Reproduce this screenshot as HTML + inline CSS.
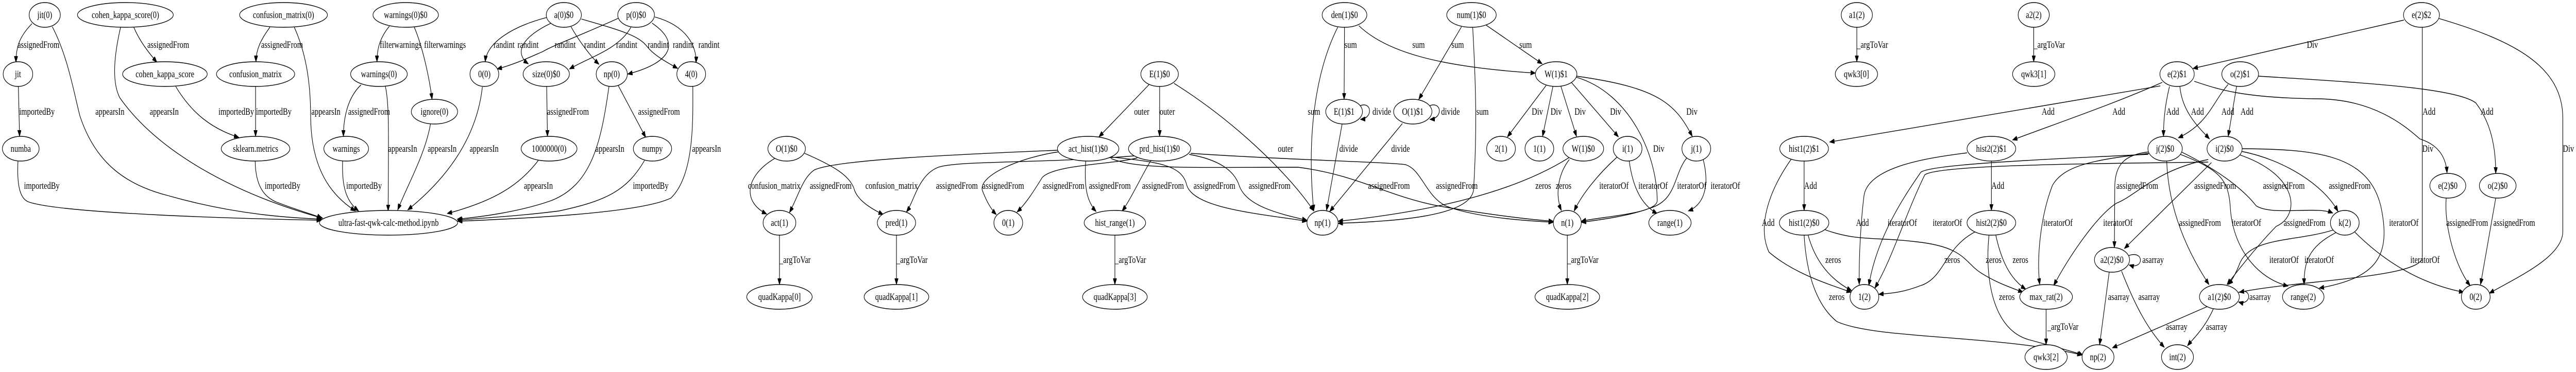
<!DOCTYPE html>
<html><head><meta charset="utf-8"><style>
html,body{margin:0;padding:0;background:#fff;width:100%;height:100%;overflow:hidden}
svg{display:block;width:100%;height:100%}
text{font-family:"Liberation Serif",serif;font-size:18.67px;fill:#000}
.n{text-anchor:middle}
ellipse{fill:#fff;stroke:#000;stroke-width:1.4}
path{fill:none;stroke:#000;stroke-width:1.4}
</style></head><body>
<svg viewBox="0 0 6451 723" preserveAspectRatio="none" xmlns="http://www.w3.org/2000/svg">
<defs><marker id="a" markerUnits="userSpaceOnUse" markerWidth="13" markerHeight="9" refX="12" refY="4.5" orient="auto"><path d="M0,0 L12,4.5 L0,9 z" style="fill:#000;stroke:#000;stroke-width:1"/></marker></defs>
<g marker-end="url(#a)">
<path d="M80,46 C50,70 40,90 40,121"/>
<path d="M46,168 L49,265"/>
<path d="M45,313 C42,360 50,385 70,392 C150,415 600,425 805,428"/>
<path d="M131,52 C170,110 185,180 200,225 C240,320 320,360 420,380 C600,420 750,424 805,426"/>
<path d="M335,53 C350,80 370,100 393,121"/>
<path d="M302,53 C285,110 280,160 300,190 C400,300 600,380 808,424"/>
<path d="M440,168 C480,220 530,250 598,267"/>
<path d="M676,53 C655,75 641,95 641,120"/>
<path d="M640,168 L640,265"/>
<path d="M737,53 C770,110 778,170 778,230 C780,330 830,380 890,410"/>
<path d="M639,313 C640,360 660,385 700,395 C750,410 790,418 806,424"/>
<path d="M975,51 C955,70 944,90 944,120"/>
<path d="M1037,52 C1058,90 1075,150 1082,193"/>
<path d="M904,165 C870,190 860,230 860,265"/>
<path d="M965,168 C975,200 973,260 972,410"/>
<path d="M1078,241 C1065,300 1020,360 996,408"/>
<path d="M858,313 C856,360 865,390 898,410"/>
<path d="M1208,169 C1195,260 1130,340 1021,408"/>
<path d="M1369,168 L1371,265"/>
<path d="M1548,166 L1617,267"/>
<path d="M1525,168 C1505,280 1480,360 1380,390 C1300,412 1200,422 1145,426"/>
<path d="M1735,168 C1735,230 1740,340 1680,385 C1600,415 1300,425 1146,430"/>
<path d="M1348,312 C1300,360 1240,390 1120,415"/>
<path d="M1614,312 C1570,370 1520,390 1400,410 C1300,420 1200,424 1146,428"/>
<path d="M1369,34 C1290,50 1220,80 1215,120"/>
<path d="M1380,45 C1300,75 1290,105 1323,124"/>
<path d="M1550,35 C1450,70 1380,90 1360,100 C1330,110 1290,125 1245,134"/>
<path d="M1430,52 C1450,80 1480,110 1500,125"/>
<path d="M1580,53 C1550,95 1480,110 1426,134"/>
<path d="M1456,37 C1560,60 1600,70 1620,90 C1640,110 1680,125 1697,133"/>
<path d="M1633,45 C1700,80 1690,120 1572,144"/>
<path d="M1640,33 C1720,50 1745,90 1743,122"/>
<path d="M1940,308 C1870,340 1855,390 1920,416"/>
<path d="M2649,292 C2400,300 2100,310 2040,330 C2010,345 2000,380 1977,413"/>
<path d="M2015,298 C2080,320 2130,340 2140,370 C2150,390 2180,405 2212,417"/>
<path d="M2840,303 C2600,318 2400,312 2350,325 C2300,340 2290,390 2270,412"/>
<path d="M2652,295 C2560,305 2450,340 2460,370 C2470,390 2480,405 2495,417"/>
<path d="M2848,307 C2780,320 2640,320 2610,345 C2590,370 2570,395 2547,412"/>
<path d="M2719,313 C2715,360 2720,390 2745,411"/>
<path d="M2882,312 C2860,340 2830,390 2810,410"/>
<path d="M2878,164 L2752,266"/>
<path d="M2904,168 L2904,265"/>
<path d="M2940,162 C3080,230 3220,330 3290,410"/>
<path d="M2780,305 C2900,315 2960,320 2972,360 C2990,405 3150,415 3273,430"/>
<path d="M2978,300 C3050,310 3090,330 3103,360 C3120,400 3200,415 3273,428"/>
<path d="M2782,308 C2850,330 3000,325 3250,325 C3400,340 3470,380 3600,400 C3750,420 3850,428 3890,430"/>
<path d="M2982,298 C3200,310 3480,315 3520,320 C3560,330 3570,380 3620,400 C3700,425 3850,430 3890,432"/>
<path d="M3367,53 L3366,193"/>
<path d="M3403,50 C3470,100 3600,130 3845,142"/>
<path d="M3350,53 C3300,130 3270,250 3290,410"/>
<path d="M3660,52 L3553,193"/>
<path d="M3722,49 L3862,124"/>
<path d="M3688,53 C3695,150 3700,250 3690,370 C3680,420 3500,430 3351,434"/>
<path d="M3361,241 L3322,409"/>
<path d="M3512,240 L3330,411"/>
<path d="M3405,206 C3435,195 3440,230 3407,232"/>
<path d="M3579,206 C3610,195 3615,230 3581,232"/>
<path d="M3872,166 L3775,266"/>
<path d="M3889,168 L3863,265"/>
<path d="M3909,168 L3948,265"/>
<path d="M3935,160 L4053,266"/>
<path d="M3947,150 C4080,180 4150,300 4150,390 C4150,415 4020,420 3960,430"/>
<path d="M3948,148 C4150,170 4195,200 4238,265"/>
<path d="M3930,306 C3800,370 3600,410 3351,430"/>
<path d="M3930,310 C3900,340 3895,380 3910,409"/>
<path d="M4050,305 C4000,340 3960,380 3942,410"/>
<path d="M4080,313 C4090,370 4115,400 4150,415"/>
<path d="M4224,307 C4190,340 4200,390 4130,405 C4080,420 4000,428 3960,432"/>
<path d="M4265,309 C4285,370 4260,400 4228,410"/>
<path d="M3925,457 L3925,553"/>
<path d="M1952,457 L1952,553"/>
<path d="M2245,457 L2245,553"/>
<path d="M2792,457 L2792,553"/>
<path d="M4650,53 L4650,120"/>
<path d="M5093,53 L5093,120"/>
<path d="M6020,39 L5492,133"/>
<path d="M6066,53 L6066,500 C6066,540 5750,545 5608,568"/>
<path d="M6108,36 C6300,80 6418,130 6418,230 L6418,450 C6418,500 6300,540 6234,570"/>
<path d="M5410,167 L4582,276"/>
<path d="M5415,160 C5300,200 5150,240 5040,272"/>
<path d="M5433,168 C5420,210 5418,240 5418,265"/>
<path d="M5459,168 C5465,220 5510,250 5533,270"/>
<path d="M5580,164 C5540,200 5530,240 5455,268"/>
<path d="M5601,168 L5580,265"/>
<path d="M5495,158 C5560,175 5620,190 5800,192 C5950,192 6030,250 6060,270 C6100,280 6125,300 6128,336"/>
<path d="M5656,148 C5900,160 6150,170 6200,200 C6240,240 6250,290 6250,337"/>
<path d="M6126,385 C6120,440 6150,520 6186,555"/>
<path d="M6250,385 L6212,553"/>
<path d="M4518,313 L4518,409"/>
<path d="M4487,308 C4430,370 4400,440 4430,490 C4490,530 4570,550 4636,568"/>
<path d="M4987,313 L4987,409"/>
<path d="M4926,297 C4850,305 4680,320 4668,380 C4660,430 4655,500 4656,553"/>
<path d="M5380,300 C5100,310 4830,320 4810,335 C4770,380 4700,460 4680,555"/>
<path d="M5530,315 C5250,318 4850,320 4820,340 C4770,420 4740,500 4695,560"/>
<path d="M4528,457 C4550,520 4600,550 4637,565"/>
<path d="M4518,457 C4525,550 4560,600 4600,625 C4700,660 5000,650 5214,690"/>
<path d="M4565,445 C4650,470 4700,460 4800,470 C4920,480 4920,510 4960,530 C5000,550 5040,560 5066,568"/>
<path d="M4948,450 C4870,480 4870,540 4810,555 C4760,570 4730,570 4705,572"/>
<path d="M4998,457 C5010,500 5030,540 5073,562"/>
<path d="M4981,457 C4970,540 4990,640 5080,660 C5150,675 5200,685 5216,690"/>
<path d="M5383,298 C5250,310 5170,320 5140,360 C5110,420 5100,500 5108,553"/>
<path d="M5530,310 C5400,330 5350,380 5300,395 C5250,420 5180,500 5143,555"/>
<path d="M5384,295 C5320,300 5298,320 5296,360 L5295,481"/>
<path d="M5538,316 L5320,483"/>
<path d="M5426,313 C5430,400 5470,480 5532,553"/>
<path d="M5460,300 C5560,330 5580,350 5585,400 C5590,480 5650,540 5730,556"/>
<path d="M5462,295 C5580,340 5630,380 5650,400 C5690,420 5800,400 5842,414"/>
<path d="M5605,300 C5760,340 5760,420 5700,440 C5650,480 5600,530 5577,553"/>
<path d="M5612,294 C5720,310 5820,360 5855,411"/>
<path d="M5615,289 C5800,290 5930,300 5962,400 C5990,500 5950,540 5808,560"/>
<path d="M5843,447 C5750,470 5640,460 5610,510 C5600,530 5590,545 5580,553"/>
<path d="M5850,452 C5780,480 5770,510 5770,553"/>
<path d="M5897,451 C5960,500 6050,550 6170,568"/>
<path d="M5330,497 C5370,485 5370,525 5332,515"/>
<path d="M5604,569 C5640,555 5640,595 5606,587"/>
<path d="M5282,529 L5258,670"/>
<path d="M5313,527 C5350,600 5380,640 5420,675"/>
<path d="M5530,595 L5290,676"/>
<path d="M5543,600 C5520,640 5490,660 5478,672"/>
<path d="M5124,601 L5124,670"/>
</g>
<g>
<ellipse cx="112" cy="29" rx="39" ry="24"/><text class="n" x="112" y="35">jit(0)</text>
<ellipse cx="314" cy="29" rx="120" ry="24"/><text class="n" x="314" y="35">cohen_kappa_score(0)</text>
<ellipse cx="710" cy="29" rx="110" ry="24"/><text class="n" x="710" y="35">confusion_matrix(0)</text>
<ellipse cx="1016" cy="29" rx="82" ry="24"/><text class="n" x="1016" y="35">warnings(0)$0</text>
<ellipse cx="45" cy="144" rx="37" ry="24"/><text class="n" x="45" y="150">jit</text>
<ellipse cx="413" cy="144" rx="106" ry="24"/><text class="n" x="413" y="150">cohen_kappa_score</text>
<ellipse cx="640" cy="144" rx="98" ry="24"/><text class="n" x="640" y="150">confusion_matrix</text>
<ellipse cx="949" cy="144" rx="71" ry="24"/><text class="n" x="949" y="150">warnings(0)</text>
<ellipse cx="1088" cy="217" rx="58" ry="24"/><text class="n" x="1088" y="223">ignore(0)</text>
<ellipse cx="52" cy="289" rx="46" ry="24"/><text class="n" x="52" y="295">numba</text>
<ellipse cx="640" cy="289" rx="86" ry="24"/><text class="n" x="640" y="295">sklearn.metrics</text>
<ellipse cx="867" cy="289" rx="56" ry="24"/><text class="n" x="867" y="295">warnings</text>
<ellipse cx="973" cy="433" rx="173" ry="24"/><text class="n" x="973" y="439">ultra-fast-qwk-calc-method.ipynb</text>
<ellipse cx="1412" cy="29" rx="44" ry="24"/><text class="n" x="1412" y="35">a(0)$0</text>
<ellipse cx="1593" cy="29" rx="46" ry="24"/><text class="n" x="1593" y="35">p(0)$0</text>
<ellipse cx="1213" cy="144" rx="36" ry="24"/><text class="n" x="1213" y="150">0(0)</text>
<ellipse cx="1368" cy="144" rx="58" ry="24"/><text class="n" x="1368" y="150">size(0)$0</text>
<ellipse cx="1532" cy="144" rx="39" ry="24"/><text class="n" x="1532" y="150">np(0)</text>
<ellipse cx="1731" cy="144" rx="36" ry="24"/><text class="n" x="1731" y="150">4(0)</text>
<ellipse cx="1375" cy="289" rx="70" ry="24"/><text class="n" x="1375" y="295">1000000(0)</text>
<ellipse cx="1634" cy="289" rx="48" ry="24"/><text class="n" x="1634" y="295">numpy</text>
<ellipse cx="1970" cy="289" rx="47" ry="24"/><text class="n" x="1970" y="295">O(1)$0</text>
<ellipse cx="1952" cy="433" rx="41" ry="24"/><text class="n" x="1952" y="439">act(1)</text>
<ellipse cx="1952" cy="577" rx="82" ry="24"/><text class="n" x="1952" y="583">quadKappa[0]</text>
<ellipse cx="2904" cy="144" rx="47" ry="24"/><text class="n" x="2904" y="150">E(1)$0</text>
<ellipse cx="2725" cy="289" rx="77" ry="24"/><text class="n" x="2725" y="295">act_hist(1)$0</text>
<ellipse cx="2904" cy="289" rx="78" ry="24"/><text class="n" x="2904" y="295">prd_hist(1)$0</text>
<ellipse cx="2245" cy="433" rx="48" ry="24"/><text class="n" x="2245" y="439">pred(1)</text>
<ellipse cx="2525" cy="433" rx="36" ry="24"/><text class="n" x="2525" y="439">0(1)</text>
<ellipse cx="2792" cy="433" rx="77" ry="24"/><text class="n" x="2792" y="439">hist_range(1)</text>
<ellipse cx="2245" cy="577" rx="81" ry="24"/><text class="n" x="2245" y="583">quadKappa[1]</text>
<ellipse cx="2792" cy="577" rx="81" ry="24"/><text class="n" x="2792" y="583">quadKappa[3]</text>
<ellipse cx="3367" cy="29" rx="56" ry="24"/><text class="n" x="3367" y="35">den(1)$0</text>
<ellipse cx="3685" cy="29" rx="62" ry="24"/><text class="n" x="3685" y="35">num(1)$0</text>
<ellipse cx="3897" cy="144" rx="52" ry="24"/><text class="n" x="3897" y="150">W(1)$1</text>
<ellipse cx="3366" cy="217" rx="46" ry="24"/><text class="n" x="3366" y="223">E(1)$1</text>
<ellipse cx="3538" cy="217" rx="48" ry="24"/><text class="n" x="3538" y="223">O(1)$1</text>
<ellipse cx="3759" cy="289" rx="36" ry="24"/><text class="n" x="3759" y="295">2(1)</text>
<ellipse cx="3855" cy="289" rx="36" ry="24"/><text class="n" x="3855" y="295">1(1)</text>
<ellipse cx="3965" cy="289" rx="51" ry="24"/><text class="n" x="3965" y="295">W(1)$0</text>
<ellipse cx="4076" cy="289" rx="36" ry="24"/><text class="n" x="4076" y="295">i(1)</text>
<ellipse cx="3312" cy="433" rx="39" ry="24"/><text class="n" x="3312" y="439">np(1)</text>
<ellipse cx="3925" cy="433" rx="35" ry="24"/><text class="n" x="3925" y="439">n(1)</text>
<ellipse cx="4182" cy="433" rx="53" ry="24"/><text class="n" x="4182" y="439">range(1)</text>
<ellipse cx="3925" cy="577" rx="81" ry="24"/><text class="n" x="3925" y="583">quadKappa[2]</text>
<ellipse cx="4650" cy="29" rx="39" ry="24"/><text class="n" x="4650" y="35">a1(2)</text>
<ellipse cx="5093" cy="29" rx="39" ry="24"/><text class="n" x="5093" y="35">a2(2)</text>
<ellipse cx="4649" cy="144" rx="53" ry="24"/><text class="n" x="4649" y="150">qwk3[0]</text>
<ellipse cx="5093" cy="144" rx="53" ry="24"/><text class="n" x="5093" y="150">qwk3[1]</text>
<ellipse cx="4248" cy="289" rx="36" ry="24"/><text class="n" x="4248" y="295">j(1)</text>
<ellipse cx="4518" cy="289" rx="61" ry="24"/><text class="n" x="4518" y="295">hist1(2)$1</text>
<ellipse cx="4987" cy="289" rx="61" ry="24"/><text class="n" x="4987" y="295">hist2(2)$1</text>
<ellipse cx="4518" cy="433" rx="62" ry="24"/><text class="n" x="4518" y="439">hist1(2)$0</text>
<ellipse cx="4987" cy="433" rx="61" ry="24"/><text class="n" x="4987" y="439">hist2(2)$0</text>
<ellipse cx="5289" cy="505" rx="44" ry="24"/><text class="n" x="5289" y="511">a2(2)$0</text>
<ellipse cx="4669" cy="577" rx="36" ry="24"/><text class="n" x="4669" y="583">1(2)</text>
<ellipse cx="5124" cy="577" rx="66" ry="24"/><text class="n" x="5124" y="583">max_rat(2)</text>
<ellipse cx="5558" cy="577" rx="50" ry="24"/><text class="n" x="5558" y="583">a1(2)$0</text>
<ellipse cx="5768" cy="577" rx="52" ry="24"/><text class="n" x="5768" y="583">range(2)</text>
<ellipse cx="6200" cy="577" rx="36" ry="24"/><text class="n" x="6200" y="583">0(2)</text>
<ellipse cx="5124" cy="694" rx="53" ry="24"/><text class="n" x="5124" y="700">qwk3[2]</text>
<ellipse cx="5254" cy="694" rx="40" ry="24"/><text class="n" x="5254" y="700">np(2)</text>
<ellipse cx="5453" cy="694" rx="40" ry="24"/><text class="n" x="5453" y="700">int(2)</text>
<ellipse cx="6064" cy="29" rx="45" ry="24"/><text class="n" x="6064" y="35">e(2)$2</text>
<ellipse cx="5452" cy="144" rx="43" ry="24"/><text class="n" x="5452" y="150">e(2)$1</text>
<ellipse cx="5610" cy="144" rx="46" ry="24"/><text class="n" x="5610" y="150">o(2)$1</text>
<ellipse cx="5422" cy="289" rx="43" ry="24"/><text class="n" x="5422" y="295">j(2)$0</text>
<ellipse cx="5571" cy="289" rx="44" ry="24"/><text class="n" x="5571" y="295">i(2)$0</text>
<ellipse cx="6130" cy="361" rx="45" ry="24"/><text class="n" x="6130" y="367">e(2)$0</text>
<ellipse cx="6255" cy="361" rx="46" ry="24"/><text class="n" x="6255" y="367">o(2)$0</text>
<ellipse cx="5872" cy="433" rx="36" ry="24"/><text class="n" x="5872" y="439">k(2)</text>
</g>
<g>
<text x="44" y="93">assignedFrom</text>
<text x="48" y="223">importedBy</text>
<text x="60" y="367">importedBy</text>
<text x="239" y="223">appearsIn</text>
<text x="369" y="93">assignedFrom</text>
<text x="375" y="223">appearsIn</text>
<text x="547" y="223">importedBy</text>
<text x="654" y="93">assignedFrom</text>
<text x="641" y="223">importedBy</text>
<text x="780" y="223">appearsIn</text>
<text x="663" y="367">importedBy</text>
<text x="951" y="93">filterwarnings</text>
<text x="1062" y="93">filterwarnings</text>
<text x="872" y="223">assignedFrom</text>
<text x="972" y="295">appearsIn</text>
<text x="1071" y="295">appearsIn</text>
<text x="867" y="367">importedBy</text>
<text x="1236" y="93">randint</text>
<text x="1296" y="93">randint</text>
<text x="1389" y="93">randint</text>
<text x="1463" y="93">randint</text>
<text x="1543" y="93">randint</text>
<text x="1622" y="93">randint</text>
<text x="1685" y="93">randint</text>
<text x="1749" y="93">randint</text>
<text x="1176" y="295">appearsIn</text>
<text x="1370" y="223">assignedFrom</text>
<text x="1598" y="223">assignedFrom</text>
<text x="1491" y="295">appearsIn</text>
<text x="1733" y="295">appearsIn</text>
<text x="1312" y="367">appearsIn</text>
<text x="1585" y="367">importedBy</text>
<text x="1873" y="367">confusion_matrix</text>
<text x="2028" y="367">assignedFrom</text>
<text x="2167" y="367">confusion_matrix</text>
<text x="2344" y="367">assignedFrom</text>
<text x="2460" y="367">assignedFrom</text>
<text x="2611" y="367">assignedFrom</text>
<text x="2727" y="367">assignedFrom</text>
<text x="2860" y="367">assignedFrom</text>
<text x="2989" y="367">assignedFrom</text>
<text x="3127" y="367">assignedFrom</text>
<text x="3426" y="367">assignedFrom</text>
<text x="3596" y="367">assignedFrom</text>
<text x="2840" y="223">outer</text>
<text x="2904" y="223">outer</text>
<text x="3200" y="295">outer</text>
<text x="1952" y="511">_argToVar</text>
<text x="2245" y="511">_argToVar</text>
<text x="2792" y="511">_argToVar</text>
<text x="3925" y="511">_argToVar</text>
<text x="3367" y="93">sum</text>
<text x="3537" y="93">sum</text>
<text x="3635" y="93">sum</text>
<text x="3805" y="93">sum</text>
<text x="3275" y="223">sum</text>
<text x="3697" y="223">sum</text>
<text x="3437" y="223">divide</text>
<text x="3609" y="223">divide</text>
<text x="3354" y="295">divide</text>
<text x="3484" y="295">divide</text>
<text x="3836" y="223">Div</text>
<text x="3883" y="223">Div</text>
<text x="3943" y="223">Div</text>
<text x="4032" y="223">Div</text>
<text x="4140" y="295">Div</text>
<text x="4223" y="223">Div</text>
<text x="3845" y="367">zeros</text>
<text x="3896" y="367">zeros</text>
<text x="4005" y="367">iteratorOf</text>
<text x="4103" y="367">iteratorOf</text>
<text x="4200" y="367">iteratorOf</text>
<text x="4284" y="367">iteratorOf</text>
<text x="4650" y="93">_argToVar</text>
<text x="5093" y="93">_argToVar</text>
<text x="5777" y="93">Div</text>
<text x="6066" y="295">Div</text>
<text x="6418" y="295">Div</text>
<text x="5113" y="223">Add</text>
<text x="5290" y="223">Add</text>
<text x="5425" y="223">Add</text>
<text x="5487" y="223">Add</text>
<text x="5563" y="223">Add</text>
<text x="5611" y="223">Add</text>
<text x="6067" y="223">Add</text>
<text x="6212" y="223">Add</text>
<text x="6126" y="439">assignedFrom</text>
<text x="6244" y="439">assignedFrom</text>
<text x="4518" y="367">Add</text>
<text x="4412" y="439">Add</text>
<text x="4987" y="367">Add</text>
<text x="4648" y="439">Add</text>
<text x="4727" y="439">iteratorOf</text>
<text x="4840" y="439">iteratorOf</text>
<text x="5117" y="439">iteratorOf</text>
<text x="5267" y="439">iteratorOf</text>
<text x="4571" y="511">zeros</text>
<text x="4580" y="583">zeros</text>
<text x="4869" y="511">zeros</text>
<text x="4973" y="511">zeros</text>
<text x="5040" y="511">zeros</text>
<text x="5006" y="583">zeros</text>
<text x="5300" y="367">assignedFrom</text>
<text x="5495" y="367">assignedFrom</text>
<text x="5667" y="367">assignedFrom</text>
<text x="5832" y="367">assignedFrom</text>
<text x="5457" y="439">assignedFrom</text>
<text x="5589" y="439">iteratorOf</text>
<text x="5719" y="439">assignedFrom</text>
<text x="5983" y="439">iteratorOf</text>
<text x="5683" y="511">iteratorOf</text>
<text x="5771" y="511">iteratorOf</text>
<text x="6036" y="511">iteratorOf</text>
<text x="5365" y="511">asarray</text>
<text x="5633" y="583">asarray</text>
<text x="5279" y="583">asarray</text>
<text x="5355" y="583">asarray</text>
<text x="5424" y="641">asarray</text>
<text x="5524" y="641">asarray</text>
<text x="5127" y="641">_argToVar</text>
</g>
</svg>
</body></html>
